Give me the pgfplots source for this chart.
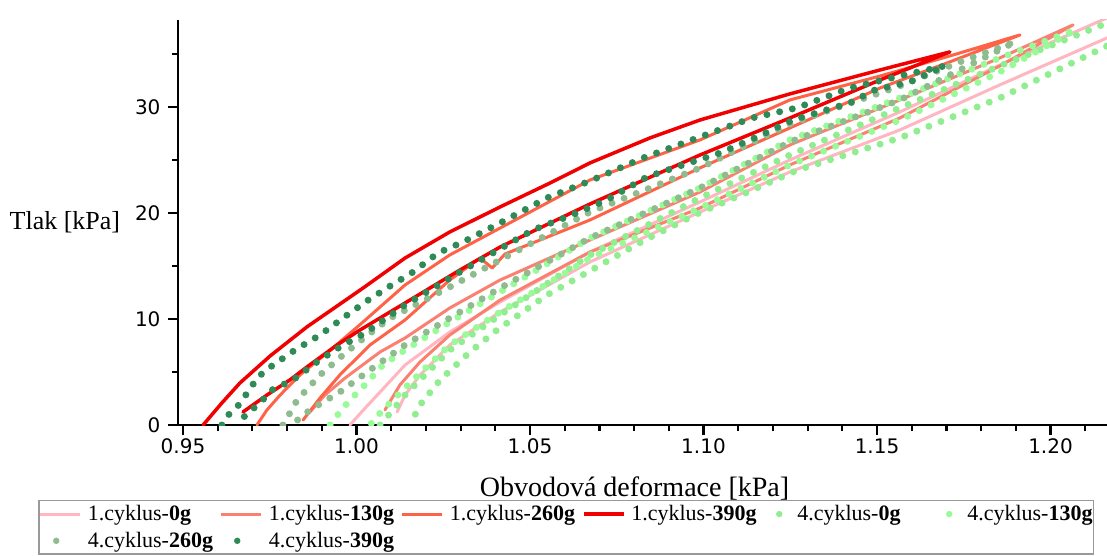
\documentclass[border=0pt]{standalone}
\usepackage{fontspec}
\setmainfont{Liberation Serif}
\newfontfamily\dejavu{DejaVu Sans}
\usepackage{pgfplots}
\pgfplotsset{compat=1.18}
\definecolor{lpink}{RGB}{255,182,193}
\definecolor{salmon}{RGB}{250,128,114}
\definecolor{tomato}{RGB}{255,99,71}
\definecolor{redd}{RGB}{240,0,0}
\definecolor{seagreen}{RGB}{46,139,87}
\definecolor{dsgreen}{RGB}{143,188,143}
\definecolor{lgreen}{RGB}{144,238,144}
\definecolor{pgreen}{RGB}{152,251,152}
\pgfplotsset{
  lineplot/.style={no markers, line width=3pt, line join=round, line cap=round,
    legend image code/.code={\draw[##1, line cap=butt] (0pt,0pt) -- (40pt,0pt);}},
  dotplot/.style={no markers, line width=7pt, line cap=round, dash pattern=on 0pt off 13pt,
    legend image code/.code={\path[draw=none] (0pt,0pt) -- (28pt,0pt);\fill[##1, draw=none] (16pt,0pt) circle (3.2pt);}},
}
\begin{document}
\begin{tikzpicture}
\useasboundingbox (0,0) rectangle (1107pt,555pt);
\begin{axis}[
  at={(178pt,130pt)}, anchor=south west,
  scale only axis, width=929pt, height=405pt,
  xmin=0.94856, xmax=1.21628, ymin=0, ymax=38.2,
  axis x line=bottom, axis y line=left,
  axis line style={-, line width=2.8pt, black},
  every outer x axis line/.append style={-},
  every outer y axis line/.append style={-},
  xtick={0.95,1.00,1.05,1.10,1.15,1.20},
  minor xtick={0.96,0.97,0.98,0.99,1.01,1.02,1.03,1.04,1.06,1.07,1.08,1.09,1.11,1.12,1.13,1.14,1.16,1.17,1.18,1.19,1.21},
  ytick={0,10,20,30}, minor ytick={5,15,25,35},
  tick align=outside, major tick length=10pt, minor tick length=6pt,
  every tick/.style={black, line width=2.2pt},
  ticklabel style={font=\dejavu\fontsize{20}{24}\selectfont},
  xticklabel style={/pgf/number format/.cd, fixed, fixed zerofill, precision=2, assume math mode=true},
  yticklabel style={/pgf/number format/assume math mode=true, xshift=-4pt},
  xlabel={Obvodová deformace [kPa]},
  ylabel={Tlak [kPa]},
  xlabel style={font=\fontsize{28}{32}\selectfont, yshift=-16pt, xshift=-8pt},
  ylabel style={font=\fontsize{26}{30}\selectfont, rotate=-90, at={(ticklabel cs:0.5,8pt)}},
  legend columns=6,
  legend cell align=left,
  legend style={at={(-0.1507,-0.185)}, anchor=north west, draw=gray!80, line width=1.5pt,
    font=\fontsize{22}{26}\selectfont, column sep=4pt, row sep=6pt, inner xsep=0pt, inner ysep=3pt},
]
% 1.cyklus-0g
\addplot[lineplot, color=lpink] coordinates {
(0.9981,0) (1.0025,1.60) (1.0068,3.11) (1.0140,5.66) (1.0269,8.77) (1.0414,11.60) (1.0673,16.32) (1.0990,21.04) (1.1249,25.00) (1.1566,29.53) (1.1854,33.96) (1.2163,38.40) (1.2229,39.34)
(1.2229,37.45) (1.2163,36.51) (1.1854,32.08) (1.1566,27.83) (1.1249,23.87) (1.0990,20.09) (1.0673,15.38) (1.0414,10.66) (1.0269,7.55) (1.0183,4.72) (1.0140,2.83) (1.0117,1.23)
};
\addlegendentry{\makebox[126pt][l]{1.cyklus-\textbf{0g}}}
% 1.cyklus-130g
\addplot[lineplot, color=salmon] coordinates {
(0.9866,1.23) (0.9909,2.83) (0.9967,4.43) (1.0068,6.89) (1.0140,8.21) (1.0269,11.04) (1.0414,13.68) (1.0673,17.45) (1.0990,21.98) (1.1249,26.42) (1.1566,30.66) (1.1854,34.62) (1.2065,37.74)
(1.1854,33.87) (1.1566,28.96) (1.1249,24.53) (1.0990,20.47) (1.0673,16.32) (1.0414,11.79) (1.0269,8.49) (1.0183,5.94) (1.0125,3.77) (1.0082,1.42)
};
\addlegendentry{\makebox[126pt][l]{1.cyklus-\textbf{130g}}}
% 1.cyklus-260g
\addplot[lineplot, color=tomato] coordinates {
(0.9713,0) (0.9742,1.42) (0.9780,2.83) (0.9837,4.72) (0.9915,6.79) (1.0019,9.72) (1.0140,13.21) (1.0269,16.04) (1.0414,18.58) (1.0673,23.11) (1.0990,26.89) (1.1249,30.66) (1.1509,32.92) (1.1710,34.81) (1.1912,36.79)
(1.1710,34.25) (1.1509,31.79) (1.1249,28.02) (1.0990,24.25) (1.0673,19.34) (1.0529,17.45) (1.0428,16.13) (1.0391,14.81) (1.0356,15.75) (1.0269,13.68) (1.0140,9.91) (1.0039,7.55) (0.9952,4.72) (0.9895,2.55) (0.9846,0.47)
};
\addlegendentry{\makebox[126pt][l]{1.cyklus-\textbf{260g}}}
% 1.cyklus-390g
\addplot[lineplot, color=redd, line width=3.5pt] coordinates {
(0.9558,0) (0.9612,2.08) (0.9664,3.96) (0.9751,6.51) (0.9857,9.25) (1.0019,12.92) (1.0140,15.75) (1.0269,18.21) (1.0414,20.57) (1.0558,22.83) (1.0673,24.72) (1.0846,27.08) (1.0990,28.77) (1.1249,31.23) (1.1509,33.49) (1.1710,35.19)
(1.1509,32.55) (1.1249,28.96) (1.0990,25.47) (1.0673,20.85) (1.0414,16.79) (1.0298,14.62) (1.0140,11.51) (1.0010,8.96) (0.9944,7.55) (0.9857,5.47) (0.9808,4.25) (0.9742,2.83) (0.9673,1.23)
};
\addlegendentry{\makebox[126pt][l]{1.cyklus-\textbf{390g}}}
% 4.cyklus-0g
\addplot[dotplot, color=lgreen] coordinates {
(1.0068,0) (1.0105,1.42) (1.0140,2.83) (1.0269,7.08) (1.0414,10.38) (1.0673,16.04) (1.0990,21.42) (1.1249,25.47) (1.1566,29.91) (1.1854,33.87) (1.2163,37.92) (1.2229,38.60)
(1.2229,36.51) (1.2163,35.75) (1.1854,30.85) (1.1566,27.08) (1.1272,24.06) (1.1128,21.98) (1.0981,19.91) (1.0831,17.45) (1.0693,14.91) (1.0549,12.26) (1.0405,8.96) (1.0327,6.89) (1.0241,4.25) (1.0183,1.89) (1.0154,0)
};
\addlegendentry{\makebox[130pt][l]{4.cyklus-\textbf{0g}}}
% 4.cyklus-130g
\addplot[dotplot, color=pgreen] coordinates {
(0.9924,0) (0.9952,1.23) (0.9981,2.36) (1.0016,3.49) (1.0076,5.66) (1.0140,7.08) (1.0269,9.72) (1.0414,12.55) (1.0673,17.64) (1.0990,22.36) (1.1249,26.89) (1.1566,30.85) (1.1854,34.62) (1.2071,37.26)
(1.1854,33.30) (1.1566,28.77) (1.1249,24.53) (1.0990,20.47) (1.0673,15.75) (1.0414,10.66) (1.0269,7.55) (1.0163,4.25) (1.0105,2.36) (1.0068,1.13) (1.0039,0)
};
\addlegendentry{\makebox[124pt][l]{4.cyklus-\textbf{130g}}}
% 4.cyklus-260g
\addplot[dotplot, color=dsgreen] coordinates {
(0.9788,0) (0.9808,1.13) (0.9829,2.36) (0.9895,4.72) (0.9961,6.60) (1.0025,8.30) (1.0097,10.09) (1.0269,13.02) (1.0414,15.57) (1.0673,20.09) (1.0990,24.25) (1.1249,28.40) (1.1566,31.98) (1.1739,34.25) (1.1898,36.13)
(1.1739,33.49) (1.1566,30.66) (1.1249,26.70) (1.0990,22.36) (1.0673,17.64) (1.0414,12.92) (1.0269,10.09) (1.0140,7.55) (1.0039,5.19) (0.9952,3.11) (0.9866,1.42) (0.9823,0.28)
};
\addlegendentry{\makebox[126pt][l]{4.cyklus-\textbf{260g}}}
% 4.cyklus-390g
\addplot[dotplot, color=seagreen] coordinates {
(0.9612,0) (0.9621,0.66) (0.9656,1.70) (0.9687,3.11) (0.9716,4.53) (0.9756,5.57) (0.9823,7.08) (0.9895,8.49) (0.9961,10.09) (1.0030,11.70) (1.0097,13.11) (1.0163,14.43) (1.0235,16.23) (1.0307,17.26) (1.0414,19.06) (1.0549,21.42) (1.0673,23.02) (1.0826,25.19) (1.0990,27.17) (1.1140,28.96) (1.1269,29.91) (1.1422,31.79) (1.1566,32.92) (1.1696,33.87)
(1.1595,32.36) (1.1494,31.60) (1.1422,30.38) (1.1258,28.77) (1.1154,27.17) (1.1048,25.66) (1.0941,24.53) (1.0837,23.40) (1.0722,21.23) (1.0621,19.81) (1.0509,18.40) (1.0408,16.51) (1.0298,14.43) (1.0140,11.32) (1.0025,8.68) (0.9952,7.36) (0.9886,5.94) (0.9817,4.25) (0.9756,3.30) (0.9722,2.08) (0.9687,1.13) (0.9658,0.19)
};
\addlegendentry{\makebox[126pt][l]{4.cyklus-\textbf{390g}}}
\end{axis}
\end{tikzpicture}
\end{document}
